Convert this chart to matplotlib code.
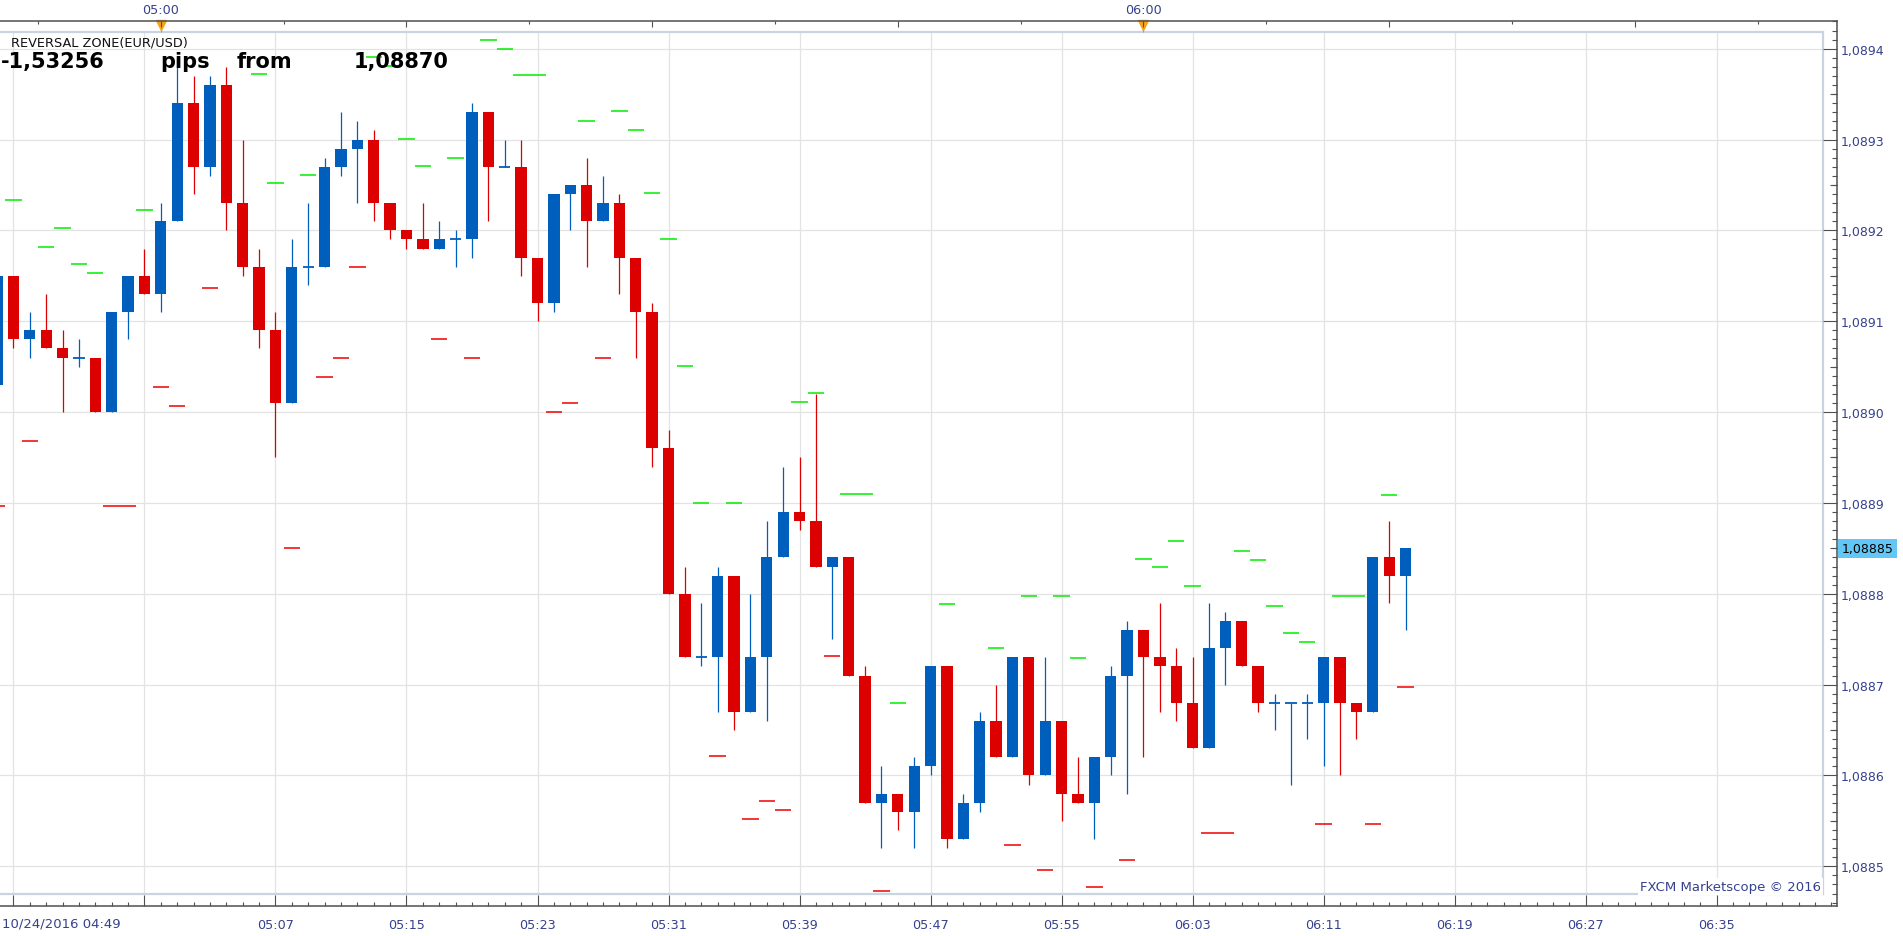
import numpy as np
import matplotlib
matplotlib.use("Agg")
import matplotlib.pyplot as plt
import matplotlib.transforms as mtransforms
from matplotlib.ticker import FixedLocator, MultipleLocator, FuncFormatter, NullFormatter

plt.rcParams['font.family'] = ['DejaVu Sans']

W, H, DPI = 1903, 937, 100

# one-minute EUR/USD bars, first bar at 04:50 (10/24/2016)
first_bar = 4 * 60 + 50
opens = [1.08903, 1.08915, 1.08908, 1.08909, 1.08907, 1.08906, 1.08906, 1.08900, 1.08911, 1.08915,
         1.08913, 1.08921, 1.08934, 1.08927, 1.08936, 1.08923, 1.08916, 1.08909, 1.08901, 1.08916,
         1.08916, 1.08927, 1.08929, 1.08930, 1.08923, 1.08920, 1.08919, 1.08918, 1.08919, 1.08919,
         1.08933, 1.08927, 1.08927, 1.08917, 1.08912, 1.08924, 1.08925, 1.08921, 1.08923, 1.08917,
         1.08911, 1.08896, 1.08880, 1.08873, 1.08873, 1.08882, 1.08867, 1.08873, 1.08884, 1.08889,
         1.08888, 1.08883, 1.08884, 1.08871, 1.08857, 1.08858, 1.08856, 1.08861, 1.08872, 1.08853,
         1.08857, 1.08866, 1.08862, 1.08873, 1.08860, 1.08866, 1.08858, 1.08857, 1.08862, 1.08871,
         1.08876, 1.08873, 1.08872, 1.08868, 1.08863, 1.08874, 1.08877, 1.08872, 1.08868, 1.08868,
         1.08868, 1.08868, 1.08873, 1.08868, 1.08867, 1.08884, 1.08882]
highs = [1.08915, 1.08915, 1.08911, 1.08913, 1.08909, 1.08908, 1.08906, 1.08911, 1.08915, 1.08918,
         1.08923, 1.08939, 1.08937, 1.08937, 1.08938, 1.08930, 1.08918, 1.08911, 1.08919, 1.08923,
         1.08928, 1.08933, 1.08932, 1.08931, 1.08923, 1.08920, 1.08923, 1.08921, 1.08920, 1.08934,
         1.08933, 1.08930, 1.08930, 1.08917, 1.08924, 1.08925, 1.08928, 1.08926, 1.08924, 1.08917,
         1.08912, 1.08898, 1.08883, 1.08879, 1.08883, 1.08882, 1.08880, 1.08888, 1.08894, 1.08895,
         1.08902, 1.08884, 1.08884, 1.08872, 1.08861, 1.08858, 1.08862, 1.08872, 1.08872, 1.08858,
         1.08867, 1.08870, 1.08873, 1.08873, 1.08873, 1.08866, 1.08862, 1.08862, 1.08872, 1.08877,
         1.08876, 1.08879, 1.08874, 1.08873, 1.08879, 1.08878, 1.08877, 1.08872, 1.08869, 1.08868,
         1.08869, 1.08873, 1.08873, 1.08868, 1.08884, 1.08888, 1.08885]
lows = [1.08903, 1.08907, 1.08906, 1.08907, 1.08900, 1.08905, 1.08900, 1.08900, 1.08908, 1.08913,
        1.08911, 1.08921, 1.08924, 1.08926, 1.08920, 1.08915, 1.08907, 1.08895, 1.08901, 1.08914,
        1.08916, 1.08926, 1.08923, 1.08921, 1.08919, 1.08918, 1.08918, 1.08918, 1.08916, 1.08917,
        1.08921, 1.08927, 1.08915, 1.08910, 1.08911, 1.08920, 1.08916, 1.08921, 1.08913, 1.08906,
        1.08894, 1.08880, 1.08873, 1.08872, 1.08867, 1.08865, 1.08867, 1.08866, 1.08884, 1.08887,
        1.08883, 1.08875, 1.08871, 1.08857, 1.08852, 1.08854, 1.08852, 1.08860, 1.08852, 1.08853,
        1.08856, 1.08862, 1.08862, 1.08859, 1.08860, 1.08855, 1.08857, 1.08853, 1.08860, 1.08858,
        1.08862, 1.08867, 1.08866, 1.08863, 1.08863, 1.08870, 1.08872, 1.08867, 1.08865, 1.08859,
        1.08864, 1.08861, 1.08860, 1.08864, 1.08867, 1.08879, 1.08876]
closes = [1.08915, 1.08908, 1.08909, 1.08907, 1.08906, 1.08906, 1.08900, 1.08911, 1.08915, 1.08913,
          1.08921, 1.08934, 1.08927, 1.08936, 1.08923, 1.08916, 1.08909, 1.08901, 1.08916, 1.08916,
          1.08927, 1.08929, 1.08930, 1.08923, 1.08920, 1.08919, 1.08918, 1.08919, 1.08919, 1.08933,
          1.08927, 1.08927, 1.08917, 1.08912, 1.08924, 1.08925, 1.08921, 1.08923, 1.08917, 1.08911,
          1.08896, 1.08880, 1.08873, 1.08873, 1.08882, 1.08867, 1.08873, 1.08884, 1.08889, 1.08888,
          1.08883, 1.08884, 1.08871, 1.08857, 1.08858, 1.08856, 1.08861, 1.08872, 1.08853, 1.08857,
          1.08866, 1.08862, 1.08873, 1.08860, 1.08866, 1.08858, 1.08857, 1.08862, 1.08871, 1.08876,
          1.08873, 1.08872, 1.08868, 1.08863, 1.08874, 1.08877, 1.08872, 1.08868, 1.08868, 1.08868,
          1.08868, 1.08873, 1.08868, 1.08867, 1.08884, 1.08882, 1.08885]

# reversal zone marks: bar number (0 = 04:50), bars covered, level
zone_top_bar = [1, 3, 4, 5, 6, 9, 16, 17, 19, 23, 24, 25, 26, 28, 30, 31, 32, 36, 38, 39,
                40, 41, 42, 43, 45, 49, 50, 52, 55, 58, 61, 63, 65, 66, 70, 71, 72, 73, 76, 77,
                78, 79, 80, 82, 85]
zone_top_len = [1, 1, 1, 1, 1, 1, 1, 1, 1, 1, 1, 1, 1, 1, 1, 1, 2, 1, 1, 1,
                1, 1, 1, 1, 1, 1, 1, 2, 1, 1, 1, 1, 1, 1, 1, 1, 1, 1, 1, 1,
                1, 1, 1, 2, 1]
zone_top_val = [1.089233, 1.089182, 1.089203, 1.089163, 1.089153, 1.089222, 1.089372, 1.089252,
                1.089261, 1.089391, 1.089381, 1.089301, 1.089271, 1.089280, 1.089410, 1.089400,
                1.089371, 1.089320, 1.089331, 1.089310, 1.089241, 1.089190, 1.089051, 1.088900,
                1.088900, 1.089011, 1.089021, 1.088910, 1.088680, 1.088789, 1.088740, 1.088798,
                1.088798, 1.088729, 1.088838, 1.088829, 1.088858, 1.088808, 1.088847, 1.088837,
                1.088787, 1.088757, 1.088747, 1.088797, 1.088909]
zone_low_bar = [0, 2, 7, 10, 11, 13, 18, 20, 21, 22, 27, 29, 34, 35, 37, 44, 46, 47, 48, 51,
                54, 62, 64, 67, 69, 74, 81, 84, 86]
zone_low_len = [1, 1, 2, 1, 1, 1, 1, 1, 1, 1, 1, 1, 1, 1, 1, 1, 1, 1, 1, 1,
                1, 1, 1, 1, 1, 2, 1, 1, 1]
zone_low_val = [1.088897, 1.088968, 1.088897, 1.089028, 1.089007, 1.089137, 1.088850, 1.089039,
                1.089060, 1.089160, 1.089080, 1.089060, 1.089000, 1.089010, 1.089060, 1.088621,
                1.088552, 1.088572, 1.088562, 1.088731, 1.088473, 1.088523, 1.088496, 1.088477,
                1.088507, 1.088537, 1.088547, 1.088547, 1.088697]

hour_marks = [5 * 60, 6 * 60]

BLUE = '#005ebd'
RED = '#dd0000'
GREEN = '#00ee00'
ZONE_RED = '#f00000'
NAVY = '#36418e'

# pixel layout of the MarketScope window
plot_box = (0, 33.3, 1822.7, 894.5)      # left, top, right, bottom
frame_box = (0, 22, 1837, 907)
t_left, t_right = 290.182, 401.47
p_bot, p_top = 1.08847006, 1.08941805


def fig_rect(l, t, r, b):
    return [l / W, 1 - b / H, (r - l) / W, (b - t) / H]


def hhmm(t, pos=None):
    t = int(round(t))
    return f"{t // 60:02d}:{t % 60:02d}"


fig = plt.figure(figsize=(W / DPI, H / DPI), dpi=DPI)
fig.patch.set_facecolor('white')

ax = fig.add_axes(fig_rect(*plot_box))
ax.set_xlim(t_left, t_right)
ax.set_ylim(p_bot, p_top)
grid_times = np.arange(291, 402, 8)
ax.xaxis.set_major_locator(FixedLocator(grid_times))
ax.yaxis.set_major_locator(MultipleLocator(0.0001))
ax.grid(True, color='#e3e3e3', lw=0.9)
ax.set_axisbelow(True)
ax.tick_params(length=0, labelbottom=False, labelleft=False)
ax.spines['left'].set_visible(False)
for s in ('top', 'bottom', 'right'):
    ax.spines[s].set_color('#c9d4e1')
    ax.spines[s].set_linewidth(1.6)

# candles
o, h, l, c = (np.array(v) for v in (opens, highs, lows, closes))
t = first_bar + np.arange(len(o))
up = c >= o
col = np.where(up, BLUE, RED)
ax.vlines(t, l, h, colors=col, lw=0.9, zorder=3)
body_lo = np.minimum(o, c)
body_h = np.abs(c - o)
flat = np.isclose(body_h, 0, atol=1e-7)
bw = 0.69
ax.bar(t[~flat], body_h[~flat], width=bw, bottom=body_lo[~flat], color=col[~flat], lw=0, zorder=4)
ax.hlines(o[flat], t[flat] - bw / 2, t[flat] + bw / 2, colors=col[flat], lw=1.3, zorder=4)

# reversal zone marks
zt = first_bar + np.array(zone_top_bar)
ax.hlines(zone_top_val, zt - 0.5, zt - 0.5 + np.array(zone_top_len), colors=GREEN, lw=1.1, zorder=2)
zl = first_bar + np.array(zone_low_bar)
ax.hlines(zone_low_val, zl - 0.5, zl - 0.5 + np.array(zone_low_len), colors=ZONE_RED, lw=1.1, zorder=2)

# outer frame with the scales
px_x = (t_right - t_left) / (plot_box[2] - plot_box[0])
px_y = (p_top - p_bot) / (plot_box[3] - plot_box[1])
fx0 = t_left - (plot_box[0] - frame_box[0]) * px_x
fx1 = t_right + (frame_box[2] - plot_box[2]) * px_x
fy0 = p_bot - (frame_box[3] - plot_box[3]) * px_y
fy1 = p_top + (plot_box[1] - frame_box[1]) * px_y

frame = fig.add_axes(fig_rect(*frame_box))
frame.set_facecolor('none')
frame.set_xlim(fx0, fx1)
frame.set_ylim(fy0, fy1)
frame.spines['left'].set_visible(False)
for s in ('top', 'bottom', 'right'):
    frame.spines[s].set_color('#505050')
    frame.spines[s].set_linewidth(1.1)
frame.xaxis.set_major_locator(FixedLocator(grid_times))
frame.xaxis.set_minor_locator(MultipleLocator(1))
frame.xaxis.set_major_formatter(FuncFormatter(lambda v, p: hhmm(v) if v >= 300 else ''))
frame.yaxis.tick_right()
frame.yaxis.set_major_locator(MultipleLocator(0.0001))
frame.yaxis.set_minor_locator(MultipleLocator(0.00001))
frame.yaxis.set_major_formatter(FuncFormatter(lambda v, p: f"{v:.4f}".replace('.', ',')))
frame.tick_params(axis='x', which='major', direction='in', length=7.9, width=0.8,
                  color='#505050', labelsize=9.2, labelcolor=NAVY, pad=8.3)
frame.tick_params(axis='x', which='minor', direction='in', length=2.9, width=0.8, color='#505050')
frame.tick_params(axis='y', which='major', direction='in', length=10.4, width=0.8,
                  color='#505050', labelsize=9, labelcolor=NAVY, pad=3)
frame.tick_params(axis='y', which='minor', direction='in', length=3.6, width=0.8, color='#505050')

# half-pip ticks on the price scale
mid = fig.add_axes(fig_rect(*frame_box))
mid.set_facecolor('none')
mid.set_xlim(fx0, fx1)
mid.set_ylim(fy0, fy1)
for s in mid.spines.values():
    s.set_visible(False)
mid.set_xticks([])
mid.yaxis.tick_right()
mid.yaxis.set_major_locator(FixedLocator(np.arange(1.08845, 1.08945, 0.0001)))
mid.yaxis.set_major_formatter(NullFormatter())
mid.tick_params(axis='y', direction='in', length=5.2, width=0.8, color='#505050')

# top time scale
top = frame.twiny()
top.set_xlim(fx0, fx1)
for s in top.spines.values():
    s.set_visible(False)
top.xaxis.set_major_locator(MultipleLocator(15))
top.xaxis.set_minor_locator(FixedLocator(np.arange(292.5, 402, 15)))
top.xaxis.set_major_formatter(FuncFormatter(lambda v, p: hhmm(v) if int(round(v)) % 60 == 0 else ''))
top.tick_params(axis='x', which='major', direction='in', length=4.3, width=0.8,
                color='#505050', labelsize=9.2, labelcolor=NAVY, pad=3.5)
top.tick_params(axis='x', which='minor', direction='in', length=2.2, width=0.8, color='#505050')

# hour markers
hb = mtransforms.blended_transform_factory(ax.transData, ax.transAxes)
ax.vlines(hour_marks, 1.0, 1.0050, transform=hb, colors='#9a9a9a', lw=0.8, clip_on=False, zorder=9)
ax.plot(hour_marks, [1.0088] * len(hour_marks), transform=hb, ls='none', marker='v', ms=6.5,
        color='#f5a31a', mec='#f5a31a', clip_on=False, zorder=10)

# last price tag
tb = mtransforms.blended_transform_factory(ax.transAxes, ax.transData)
ax.text(1841.5 / plot_box[2], closes[-1], f"{closes[-1]:.5f}".replace('.', ','), transform=tb,
        fontsize=9, color='black', ha='left', va='center', clip_on=False, zorder=11,
        bbox=dict(boxstyle='square,pad=0.26', fc='#62c6f7', ec='none'))

# texts
fig.text(11 / W, 1 - 43.3 / H, "REVERSAL ZONE(EUR/USD)", fontsize=9.3, color='#111111',
         ha='left', va='center')
for word, xpx, align in [("-1,53256", 1, 'left'), ("pips", 185, 'center'),
                         ("from", 264, 'center'), ("1,08870", 449, 'right')]:
    fig.text(xpx / W, 1 - 68.3 / H, word, fontsize=15, fontweight='bold', color='black',
             ha=align, va='baseline')
fig.text(2 / W, 1 - 924 / H, "10/24/2016 04:49", fontsize=9.5, color=NAVY, ha='left', va='center')
fig.text(1821 / W, 1 - 891 / H, "FXCM Marketscope © 2016", fontsize=9.5, color=NAVY,
         ha='right', va='baseline', zorder=12,
         bbox=dict(boxstyle='square,pad=0.15', fc='white', ec='none'))

fig.savefig('out.png', dpi=DPI)
